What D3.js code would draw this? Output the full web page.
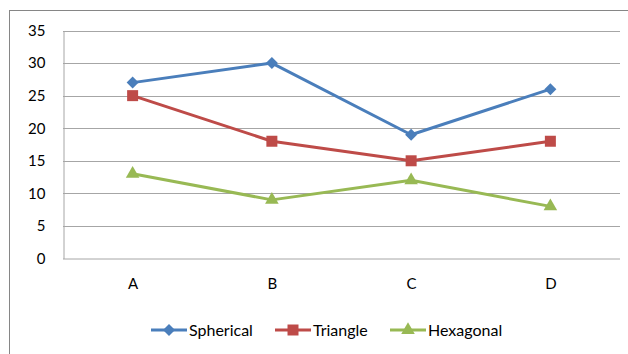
<!DOCTYPE html>
<html>
<head>
<meta charset="utf-8">
<script src="https://cdn.jsdelivr.net/npm/d3@7"></script>
<style>
  html, body { margin: 0; padding: 0; background: #fff; }
  svg { display: block; }
  text { font-family: Lato, "Liberation Sans", sans-serif; fill: #000; }
</style>
</head>
<body>
<svg id="chart" width="628" height="354"></svg>
<script>
// Chart data
const categories = ["A", "B", "C", "D"];
const spherical = [27, 30, 19, 26];
const triangle = [25, 18, 15, 18];
const hexagonal = [13, 9, 12, 8];
const yTicks = [0, 5, 10, 15, 20, 25, 30, 35];

// Marker shapes: diamond is a square turned by 45 degrees
const series = [
  { name: "Spherical", values: spherical, color: "#4A7EBB", symbol: d3.symbolSquare, size: 72, rotate: 45 },
  { name: "Triangle", values: triangle, color: "#BE4B48", symbol: d3.symbolSquare, size: 121, rotate: 0 },
  { name: "Hexagonal", values: hexagonal, color: "#98B954", symbol: d3.symbolTriangle, size: 80, rotate: 0 }
];

const svg = d3.select("#chart");
const plot = { left: 63, right: 620, top: 30.5, bottom: 258.5 };
const fontFamily = "Lato, 'Liberation Sans', sans-serif";

// Outer chart frame
svg.append("rect")
  .attr("x", 9.5).attr("y", 10.5)
  .attr("width", 640).attr("height", 360)
  .attr("fill", "none").attr("stroke", "#868686").attr("stroke-width", 1);

const x = d3.scalePoint().domain(categories)
  .range([plot.left, plot.right]).padding(0.5);
const y = d3.scaleLinear().domain([0, 35]).range([plot.bottom, plot.top]);

// Horizontal gridlines
svg.append("g").selectAll("line").data(yTicks.filter(t => t > 0)).join("line")
  .attr("x1", plot.left).attr("x2", plot.right)
  .attr("y1", d => Math.round(y(d)) + 0.5).attr("y2", d => Math.round(y(d)) + 0.5)
  .attr("stroke", "#a6a6a6").attr("stroke-width", 1);

// Y axis
const yAxis = svg.append("g")
  .attr("transform", `translate(${plot.left + 0.5},0)`)
  .call(d3.axisLeft(y).tickValues(yTicks).tickSize(0).tickPadding(18));
yAxis.select(".domain").attr("stroke", "#a6a6a6");
yAxis.selectAll("text").style("font-size", "15px").attr("font-family", fontFamily);

// X axis
const xAxis = svg.append("g")
  .attr("transform", `translate(0,${plot.bottom})`)
  .call(d3.axisBottom(x).tickSize(0).tickPadding(20));
xAxis.select(".domain").attr("stroke", "#a6a6a6").attr("d", `M${plot.left},0.5H${plot.right}`);
xAxis.selectAll("text").style("font-size", "15px").attr("font-family", fontFamily);

// Lines and markers
const line = d3.line().x((d, i) => x(categories[i])).y(d => y(d));
series.forEach(s => {
  svg.append("path").datum(s.values)
    .attr("d", line).attr("fill", "none")
    .attr("stroke", s.color).attr("stroke-width", 3).attr("stroke-linejoin", "round");
  svg.append("g").selectAll("path").data(s.values).join("path")
    .attr("d", d3.symbol().type(s.symbol).size(s.size))
    .attr("transform", (d, i) => `translate(${x(categories[i])},${y(d)}) rotate(${s.rotate})`)
    .attr("fill", s.color);
});

// Legend
const legendX = [151, 275, 390];
const legendY = 330;
series.forEach((s, i) => {
  const g = svg.append("g").attr("transform", `translate(${legendX[i]},${legendY})`);
  g.append("line").attr("x1", 0).attr("x2", 36).attr("y1", 0).attr("y2", 0)
    .attr("stroke", s.color).attr("stroke-width", 3);
  g.append("path").attr("d", d3.symbol().type(s.symbol).size(s.size))
    .attr("transform", `translate(18,0) rotate(${s.rotate})`).attr("fill", s.color);
  g.append("text").attr("x", 38).attr("y", 0).attr("dy", "0.35em")
    .style("font-size", "16px").text(s.name);
});
</script>
</body>
</html>
